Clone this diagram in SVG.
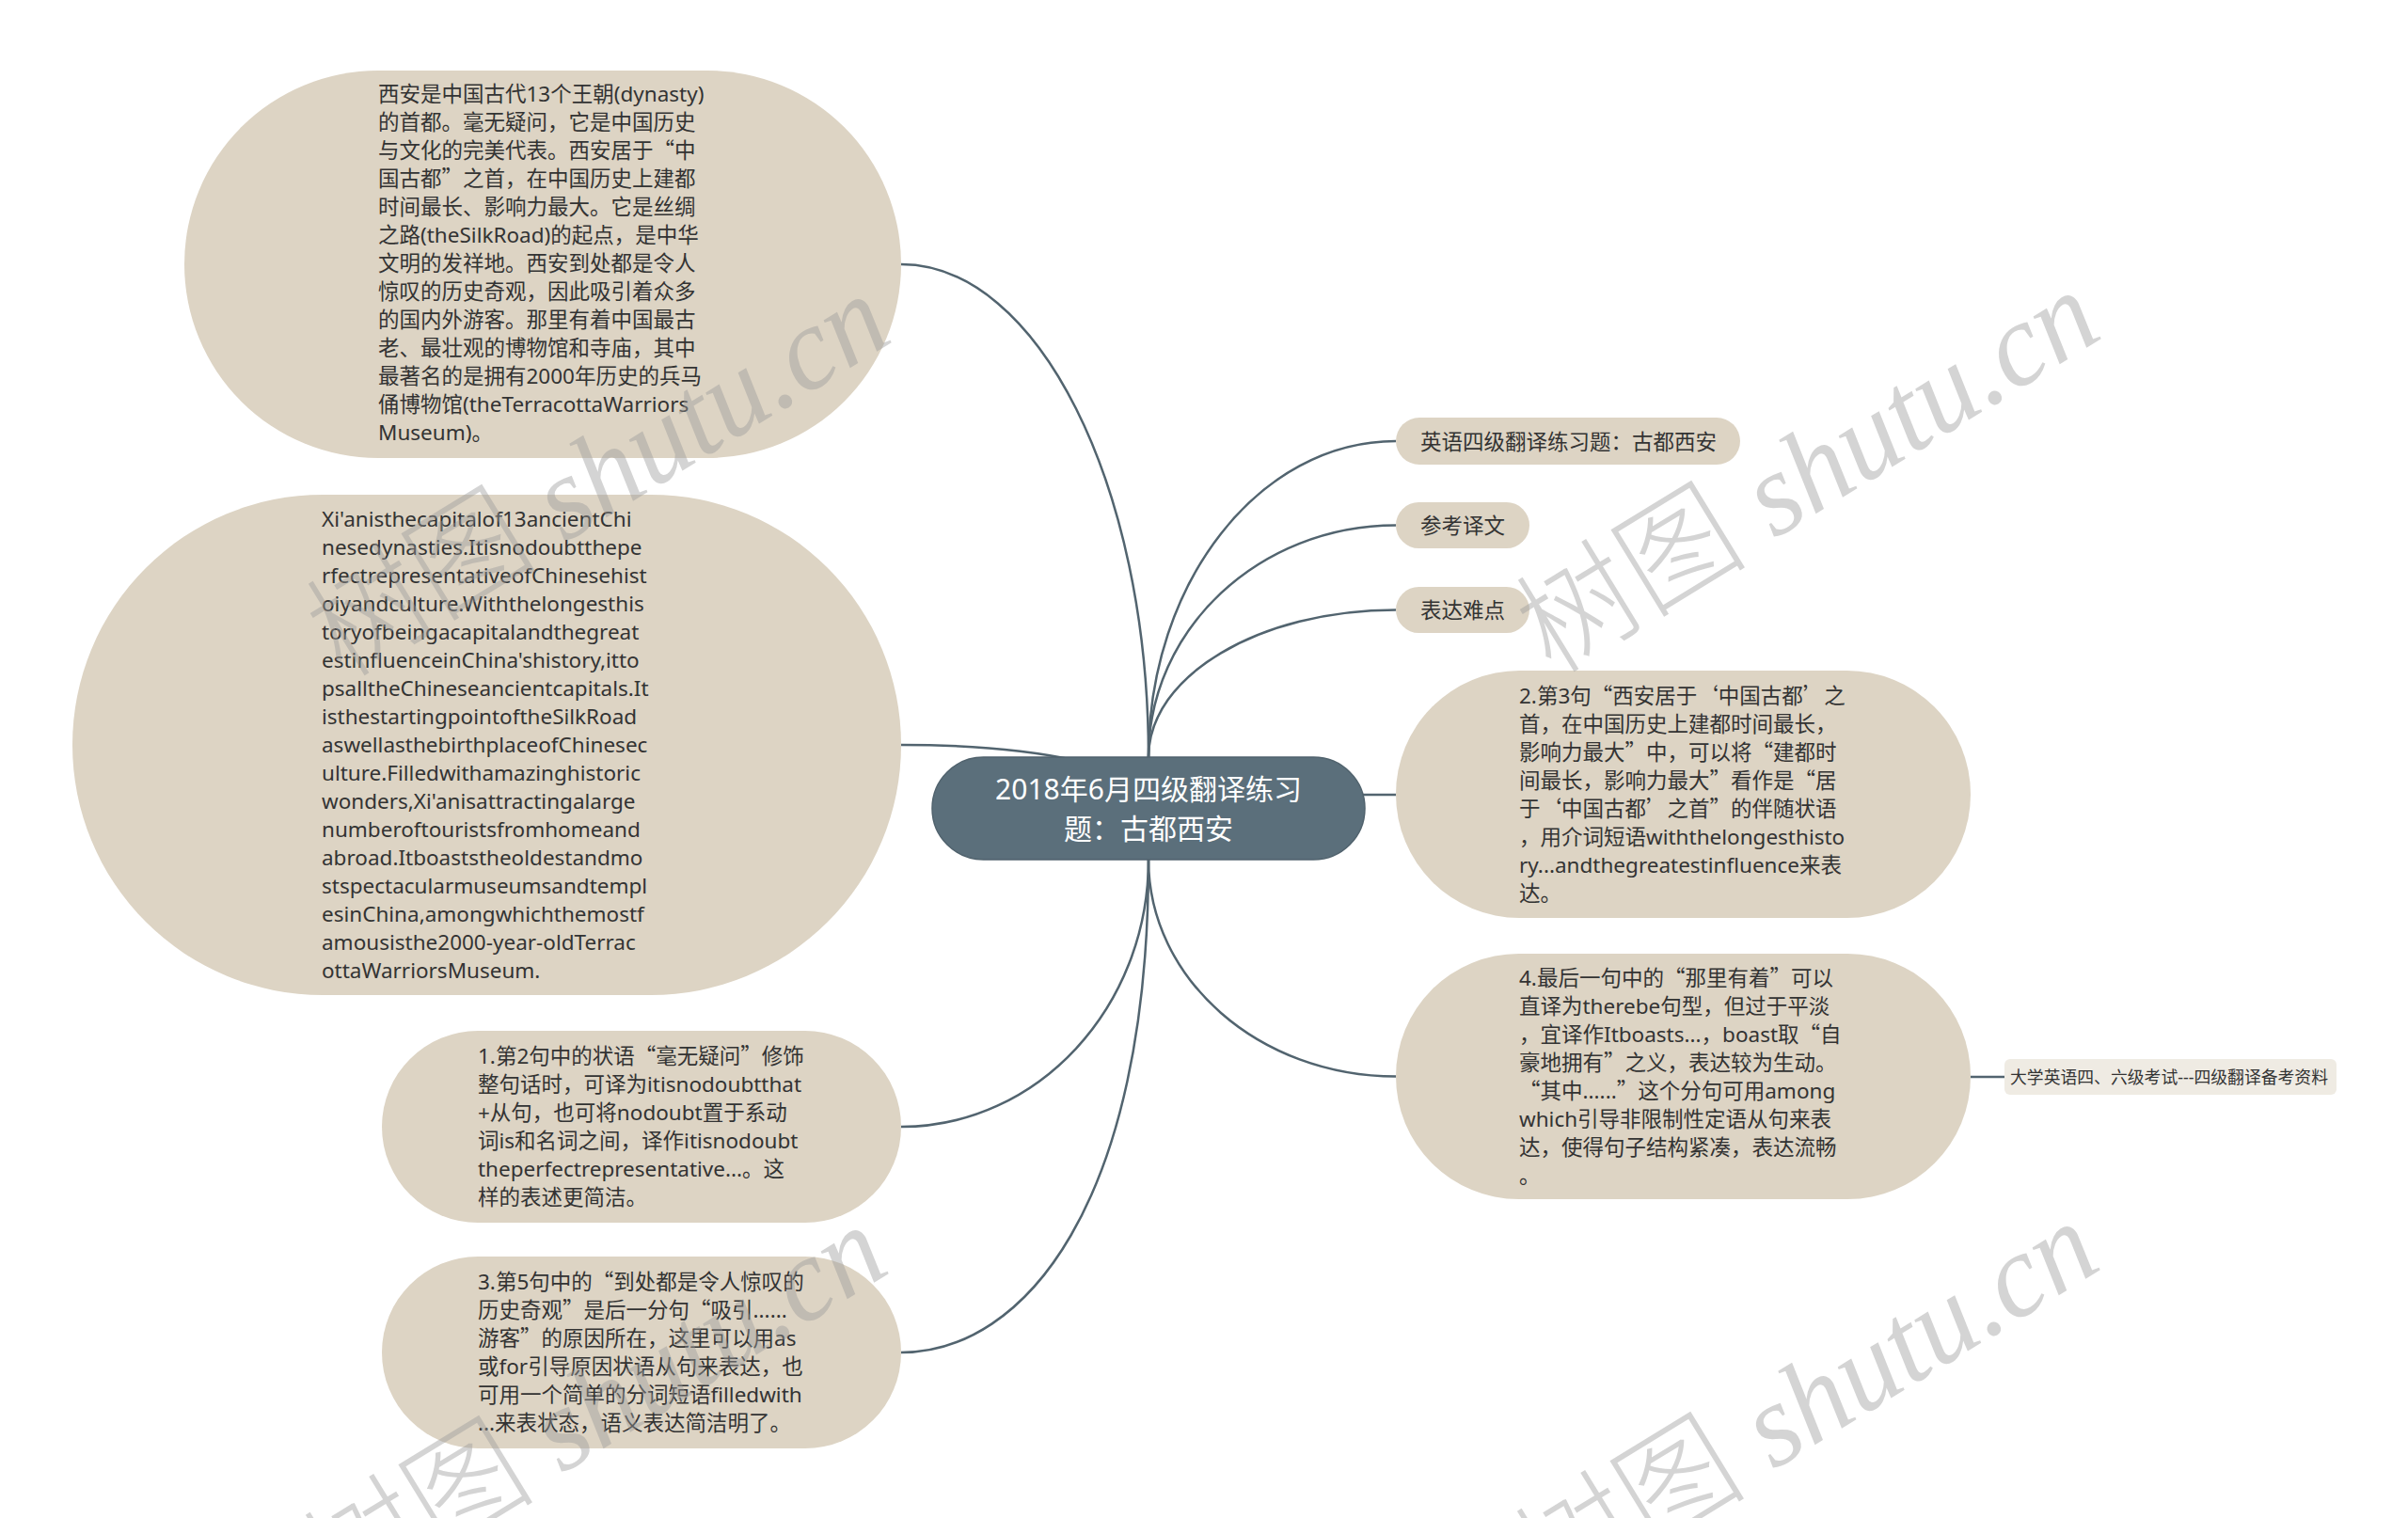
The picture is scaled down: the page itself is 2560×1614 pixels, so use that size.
<svg xmlns="http://www.w3.org/2000/svg" width="2560" height="1614" viewBox="0 0 2560 1614">
<style>
.n{fill:#ddd4c4;}
.s{fill:#efebe3;}
.root{fill:#5b6f7b;stroke:#50626d;stroke-width:1.5;}
.t{font-family:"Noto Sans","Noto Sans CJK SC",sans-serif;font-size:22.5px;fill:#333333;}
.q{font-family:"Noto Sans CJK SC",sans-serif;}
.rt{font-family:"Noto Sans","Noto Sans CJK SC",sans-serif;font-size:30px;fill:#ffffff;text-anchor:middle;}
.c{fill:none;stroke:#52646f;stroke-width:2.5;}
.wm{font-family:"Liberation Serif","Noto Sans CJK SC",serif;font-style:italic;font-size:126px;fill:#9a9a9a;opacity:0.42;}
.wmc{font-family:"Noto Sans CJK SC",sans-serif;font-style:normal;font-weight:300;}
</style>
<rect width="2560" height="1614" fill="#ffffff"/>
<g id="connectors">
<path class="c" d="M1221,805 C1221,515.6 1103.3,281 958,281"/>
<path class="c" d="M1221,850 C1221,817 1103.3,792 958,792"/>
<path class="c" d="M1221,914 C1221,1070.9 1103.3,1198 958,1198"/>
<path class="c" d="M1221,914 C1221,1280 1089,1438 958,1438"/>
<path class="c" d="M1221,805 C1221,619.4 1338.7,469 1484,469"/>
<path class="c" d="M1221,805 C1221,668.9 1338.7,558.5 1484,558.5"/>
<path class="c" d="M1221,805 C1221,718.6 1338.7,648.5 1484,648.5"/>
<path class="c" d="M1221,845 L1484,845"/>
<path class="c" d="M1221,914 C1221,1041.3 1338.7,1144.5 1484,1144.5"/>
<path class="c" d="M2095,1145 L2131,1145"/>
</g>
<g id="root">
<rect class="root" x="991" y="805" width="460" height="109" rx="54.5"/>
<text class="rt" x="1221" y="850">2018年6月四级翻译练习</text>
<text class="rt" x="1221" y="892">题：古都西安</text>
</g>
<g id="node-zh">
<rect class="n" x="196" y="75" width="762" height="412" rx="206"/>
<text class="t" x="402">
<tspan x="402" y="108">西安是中国古代13个王朝(dynasty)</tspan>
<tspan x="402" y="138">的首都。毫无疑问，它是中国历史</tspan>
<tspan x="402" y="168">与文化的完美代表。西安居于<tspan class="q">“</tspan>中</tspan>
<tspan x="402" y="198">国古都<tspan class="q">”</tspan>之首，在中国历史上建都</tspan>
<tspan x="402" y="228">时间最长、影响力最大。它是丝绸</tspan>
<tspan x="402" y="258">之路(theSilkRoad)的起点，是中华</tspan>
<tspan x="402" y="288">文明的发祥地。西安到处都是令人</tspan>
<tspan x="402" y="318">惊叹的历史奇观，因此吸引着众多</tspan>
<tspan x="402" y="348">的国内外游客。那里有着中国最古</tspan>
<tspan x="402" y="378">老、最壮观的博物馆和寺庙，其中</tspan>
<tspan x="402" y="408">最著名的是拥有2000年历史的兵马</tspan>
<tspan x="402" y="438">俑博物馆(theTerracottaWarriors</tspan>
<tspan x="402" y="468">Museum)。</tspan>
</text>
</g>
<g id="node-en">
<rect class="n" x="77" y="526" width="881" height="532" rx="266"/>
<text class="t">
<tspan x="342" y="560">Xi'anisthecapitalof13ancientChi</tspan>
<tspan x="342" y="590">nesedynasties.Itisnodoubtthepe</tspan>
<tspan x="342" y="620">rfectrepresentativeofChinesehist</tspan>
<tspan x="342" y="650">oiyandculture.Withthelongesthis</tspan>
<tspan x="342" y="680">toryofbeingacapitalandthegreat</tspan>
<tspan x="342" y="710">estinfluenceinChina'shistory,itto</tspan>
<tspan x="342" y="740">psalltheChineseancientcapitals.It</tspan>
<tspan x="342" y="770">isthestartingpointoftheSilkRoad</tspan>
<tspan x="342" y="800">aswellasthebirthplaceofChinesec</tspan>
<tspan x="342" y="830">ulture.Filledwithamazinghistoric</tspan>
<tspan x="342" y="860">wonders,Xi'anisattractingalarge</tspan>
<tspan x="342" y="890">numberoftouristsfromhomeand</tspan>
<tspan x="342" y="920">abroad.Itboaststheoldestandmo</tspan>
<tspan x="342" y="950">stspectacularmuseumsandtempl</tspan>
<tspan x="342" y="980">esinChina,amongwhichthemostf</tspan>
<tspan x="342" y="1010">amousisthe2000-year-oldTerrac</tspan>
<tspan x="342" y="1040">ottaWarriorsMuseum.</tspan>
</text>
</g>
<g id="node-note1">
<rect class="n" x="406" y="1096" width="552" height="204" rx="102"/>
<text class="t">
<tspan x="508" y="1131">1.第2句中的状语<tspan class="q">“</tspan>毫无疑问<tspan class="q">”</tspan>修饰</tspan>
<tspan x="508" y="1161">整句话时，可译为itisnodoubtthat</tspan>
<tspan x="508" y="1191">+从句，也可将nodoubt置于系动</tspan>
<tspan x="508" y="1221">词is和名词之间，译作itisnodoubt</tspan>
<tspan x="508" y="1251">theperfectrepresentative...。这</tspan>
<tspan x="508" y="1281">样的表述更简洁。</tspan>
</text>
</g>
<g id="node-note3">
<rect class="n" x="406" y="1336" width="552" height="204" rx="102"/>
<text class="t">
<tspan x="508" y="1371">3.第5句中的<tspan class="q">“</tspan>到处都是令人惊叹的</tspan>
<tspan x="508" y="1401">历史奇观<tspan class="q">”</tspan>是后一分句<tspan class="q">“</tspan>吸引......</tspan>
<tspan x="508" y="1431">游客<tspan class="q">”</tspan>的原因所在，这里可以用as</tspan>
<tspan x="508" y="1461">或for引导原因状语从句来表达，也</tspan>
<tspan x="508" y="1491">可用一个简单的分词短语filledwith</tspan>
<tspan x="508" y="1521">...来表状态，语义表达简洁明了。</tspan>
</text>
</g>
<g id="node-title">
<rect class="n" x="1484" y="444" width="366" height="50" rx="25"/>
<text class="t" x="1510" y="477.5">英语四级翻译练习题：古都西安</text>
</g>
<g id="node-ref">
<rect class="n" x="1484" y="534" width="142" height="49" rx="24.5"/>
<text class="t" x="1510" y="567">参考译文</text>
</g>
<g id="node-diff">
<rect class="n" x="1484" y="624" width="142" height="49" rx="24.5"/>
<text class="t" x="1510" y="657">表达难点</text>
</g>
<g id="node-note2">
<rect class="n" x="1484" y="713" width="611" height="263" rx="131.5"/>
<text class="t">
<tspan x="1615" y="748">2.第3句<tspan class="q">“</tspan>西安居于<tspan class="q">‘</tspan>中国古都<tspan class="q">’</tspan>之</tspan>
<tspan x="1615" y="778">首，在中国历史上建都时间最长，</tspan>
<tspan x="1615" y="808">影响力最大<tspan class="q">”</tspan>中，可以将<tspan class="q">“</tspan>建都时</tspan>
<tspan x="1615" y="838">间最长，影响力最大<tspan class="q">”</tspan>看作是<tspan class="q">“</tspan>居</tspan>
<tspan x="1615" y="868">于<tspan class="q">‘</tspan>中国古都<tspan class="q">’</tspan>之首<tspan class="q">”</tspan>的伴随状语</tspan>
<tspan x="1615" y="898">，用介词短语withthelongesthisto</tspan>
<tspan x="1615" y="928">ry...andthegreatestinfluence来表</tspan>
<tspan x="1615" y="958">达。</tspan>
</text>
</g>
<g id="node-note4">
<rect class="n" x="1484" y="1014" width="611" height="261" rx="130.5"/>
<text class="t">
<tspan x="1615" y="1048">4.最后一句中的<tspan class="q">“</tspan>那里有着<tspan class="q">”</tspan>可以</tspan>
<tspan x="1615" y="1078">直译为therebe句型，但过于平淡</tspan>
<tspan x="1615" y="1108">，宜译作Itboasts...，boast取<tspan class="q">“</tspan>自</tspan>
<tspan x="1615" y="1138">豪地拥有<tspan class="q">”</tspan>之义，表达较为生动。</tspan>
<tspan x="1615" y="1168"><tspan class="q">“</tspan>其中......<tspan class="q">”</tspan>这个分句可用among</tspan>
<tspan x="1615" y="1198">which引导非限制性定语从句来表</tspan>
<tspan x="1615" y="1228">达，使得句子结构紧凑，表达流畅</tspan>
<tspan x="1615" y="1258">。</tspan>
</text>
</g>
<g id="node-source">
<rect class="s" x="2131" y="1126" width="353" height="38" rx="6"/>
<text class="t" x="2137" y="1152" style="font-size:18px" textLength="338" lengthAdjust="spacingAndGlyphs">大学英语四、六级考试---四级翻译备考资料</text>
</g>
<g id="watermarks">
<text class="wm" transform="translate(364,722) rotate(-31.5)" textLength="690" lengthAdjust="spacingAndGlyphs"><tspan class="wmc">树图</tspan> shutu.cn</text>
<text class="wm" transform="translate(1650,718) rotate(-31.5)" textLength="690" lengthAdjust="spacingAndGlyphs"><tspan class="wmc">树图</tspan> shutu.cn</text>
<text class="wm" transform="translate(361,1712) rotate(-31.5)" textLength="690" lengthAdjust="spacingAndGlyphs"><tspan class="wmc">树图</tspan> shutu.cn</text>
<text class="wm" transform="translate(1649,1708) rotate(-31.5)" textLength="690" lengthAdjust="spacingAndGlyphs"><tspan class="wmc">树图</tspan> shutu.cn</text>
</g>
</svg>
